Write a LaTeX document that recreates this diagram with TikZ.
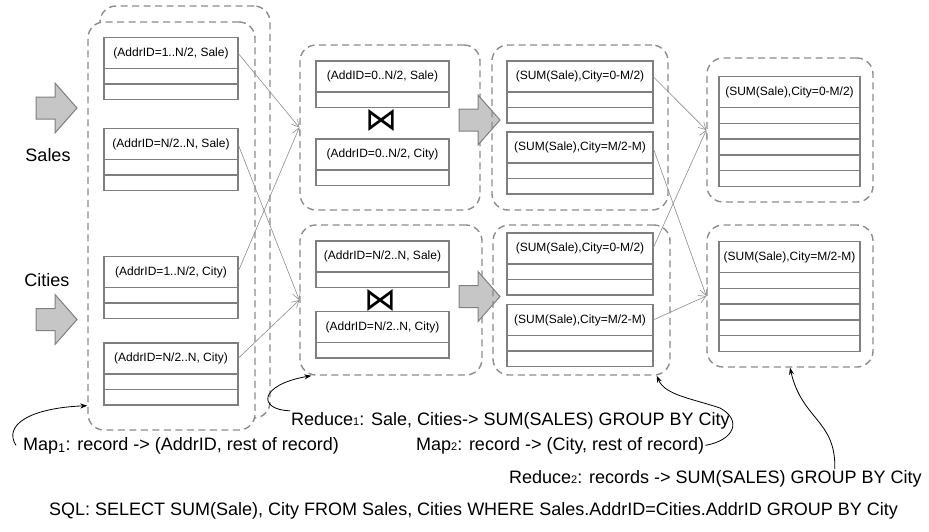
\documentclass[tikz,border=0pt]{standalone}
\usepackage{fontspec}
\setmainfont{Liberation Sans}
\newfontfamily\symfont{DejaVu Sans}
\usepackage{tikz}
\usetikzlibrary{arrows.meta, positioning}
\definecolor{dbgray}{HTML}{7F7F7F}
\definecolor{dashgray}{HTML}{8C8C8C}
\definecolor{arrowfill}{HTML}{C6C6C6}

\begin{document}
\begin{tikzpicture}[
  x=1pt, y=-1pt,
  group/.style={rectangle, draw=dashgray, dash pattern=on 7pt off 4.5pt,
                line width=1.4pt, rounded corners=16pt, inner sep=0pt},
  hdr/.style={rectangle, draw=dbgray, fill=white, line width=1.5pt,
              minimum height=31pt, inner sep=0pt, outer sep=0pt,
              font=\fontsize{12}{14}\selectfont},
  cell/.style={rectangle, draw=dbgray, line width=1.5pt, anchor=north,
               minimum height=15.5pt, inner sep=0pt, outer sep=0pt},
  flow/.style={-{Straight Barb[length=7pt,width=8pt]}, draw=dashgray,
               line width=0.6pt},
  note/.style={-{Stealth[length=7pt,width=5pt]}, line width=0.8pt},
  lbl/.style={font=\fontsize{18}{21}\selectfont, inner sep=1pt},
  bowmark/.style={font=\symfont\fontsize{32}{32}\selectfont, inner sep=0pt},
  fatarrow/.pic={\draw[draw=dbgray, fill=arrowfill, line width=1pt]
    (0,-11) -- (19,-11) -- (19,-25) -- (41,0) -- (19,25) -- (19,11)
    -- (0,11) -- cycle;}
]
  \useasboundingbox (0,0) rectangle (929,531);

  % map stage
  \node[group, minimum width=170pt, minimum height=412pt] (lstack) at (185,212) {};
  \node[group, fill=white, minimum width=167pt, minimum height=408pt] (lmap) at (171.5,226) {};

  \node[hdr, minimum width=134pt] (s1) at (171,53)    {(AddrID=1..N/2, Sale)};
  \node[hdr, minimum width=134pt] (s2) at (171,144)   {(AddrID=N/2..N, Sale)};
  \node[hdr, minimum width=134pt] (s3) at (171,272)   {(AddrID=1..N/2, City)};
  \node[hdr, minimum width=134pt] (s4) at (171,358.5) {(AddrID=N/2..N, City)};
  \foreach \t in {s1,s2,s3,s4}
    \foreach \k in {0,1}
      \node[cell, minimum width=134pt] (\t-\k) at ([yshift={-15.5pt*\k}]\t.south) {};

  \pic at (36,108)   {fatarrow};
  \pic at (36,319.5) {fatarrow};
  \node[lbl] (sales)  at (48,155) {Sales};
  \node[lbl] (cities) at (47,280) {Cities};

  % reduce 1 / join stage
  \node[group, minimum width=180pt, minimum height=165pt] (r1) at (390,127.5) {};
  \node[group, minimum width=182pt, minimum height=150pt] (r2) at (391,300) {};

  \node[hdr, minimum width=133pt] (ja) at (382.5,76.5)  {(AddID=0..N/2, Sale)};
  \node[hdr, minimum width=133pt] (jb) at (382.5,154.5) {(AddrID=0..N/2, City)};
  \node[hdr, minimum width=133pt] (jc) at (382.5,256.5) {(AddrID=N/2..N, Sale)};
  \node[hdr, minimum width=133pt] (jd) at (382.5,327)   {(AddrID=N/2..N, City)};
  \foreach \t in {ja,jb,jc,jd}
    \node[cell, minimum width=133pt] (\t-0) at (\t.south) {};

  \node[bowmark] (bow1) at (381.5,120.5) {⋈};
  \node[bowmark] (bow2) at (380.5,300)   {⋈};

  \draw[flow] (s1.east) -- (r1.west);
  \draw[flow] (s3.east) -- (r1.west);
  \draw[flow] (s2.east) -- (r2.west);
  \draw[flow] (s4.east) -- (r2.west);

  \pic at (459,120)   {fatarrow};
  \pic at (459,296.5) {fatarrow};

  % map 2 stage
  \node[group, minimum width=176pt, minimum height=165pt] (c1) at (580,127.5) {};
  \node[group, minimum width=177pt, minimum height=150pt] (c2) at (581.5,300) {};

  \node[hdr, minimum width=146pt] (sa) at (580,76.5)  {(SUM(Sale),City=0-M/2)};
  \node[hdr, minimum width=146pt] (sb) at (580,147.5) {(SUM(Sale),City=M/2-M)};
  \node[hdr, minimum width=146pt] (sc) at (580,248.5) {(SUM(Sale),City=0-M/2)};
  \node[hdr, minimum width=146pt] (sd) at (580,320)   {(SUM(Sale),City=M/2-M)};
  \foreach \t in {sa,sb,sc,sd}
    \foreach \k in {0,1}
      \node[cell, minimum width=146pt] (\t-\k) at ([yshift={-15.5pt*\k}]\t.south) {};

  % reduce 2 stage
  \node[group, minimum width=166pt, minimum height=144pt] (f1) at (790,130) {};
  \node[group, minimum width=166pt, minimum height=142pt] (f2) at (790,296) {};

  \node[hdr, minimum width=141pt] (fa) at (789.5,92)  {(SUM(Sale),City=0-M/2)};
  \node[hdr, minimum width=141pt] (fb) at (789.5,257) {(SUM(Sale),City=M/2-M)};
  \foreach \t in {fa,fb}
    \foreach \k in {0,...,4}
      \node[cell, minimum width=141pt, minimum height=15.8pt]
        (\t-\k) at ([yshift={-15.8pt*\k}]\t.south) {};

  \draw[flow] (sa.east) -- (f1.west);
  \draw[flow] (sc.east) -- (f1.west);
  \draw[flow] (sb.east) -- (f2.west);
  \draw[flow] (sd.east) -- (f2.west);

  % captions
  \node[lbl, anchor=base west] (map1) at (22,450)
    {Map\textsubscript{1}: record -> (AddrID, rest of record)};
  \node[lbl, anchor=base west] (red1) at (290,425)
    {Reduce{\fontsize{11}{11}\selectfont 1}: Sale, Cities-> SUM(SALES) GROUP BY City};
  \node[lbl, anchor=base west] (map2) at (415,450)
    {Map{\fontsize{11}{11}\selectfont 2}: record -> (City, rest of record)};
  \node[lbl, anchor=base west] (red2) at (508,483)
    {Reduce{\fontsize{11}{11}\selectfont 2}: records -> SUM(SALES) GROUP BY City};
  \node[lbl, anchor=base west] (sql) at (48,515)
    {SQL: SELECT SUM(Sale), City FROM Sales, Cities WHERE Sales.AddrID=Cities.AddrID GROUP BY City};

  \draw[note] ([xshift=-6pt]map1.west) .. controls (3,425) and (30,408)
    .. ([yshift=25pt]lmap.south west);
  \draw[note] (red1.north west) .. controls (258,410) and (258,385)
    .. ([xshift=12pt]r2.south west);
  \draw[note] (map2.east) .. controls (735,440) and (742,420) .. (720,408)
    .. controls (690,398) and (665,395) .. ([xshift=-14pt]c2.south east);
  \draw[note] ([xshift=-88pt]red2.north east) .. controls (836,420) and (802,420)
    .. (f2.south);
\end{tikzpicture}
\end{document}
